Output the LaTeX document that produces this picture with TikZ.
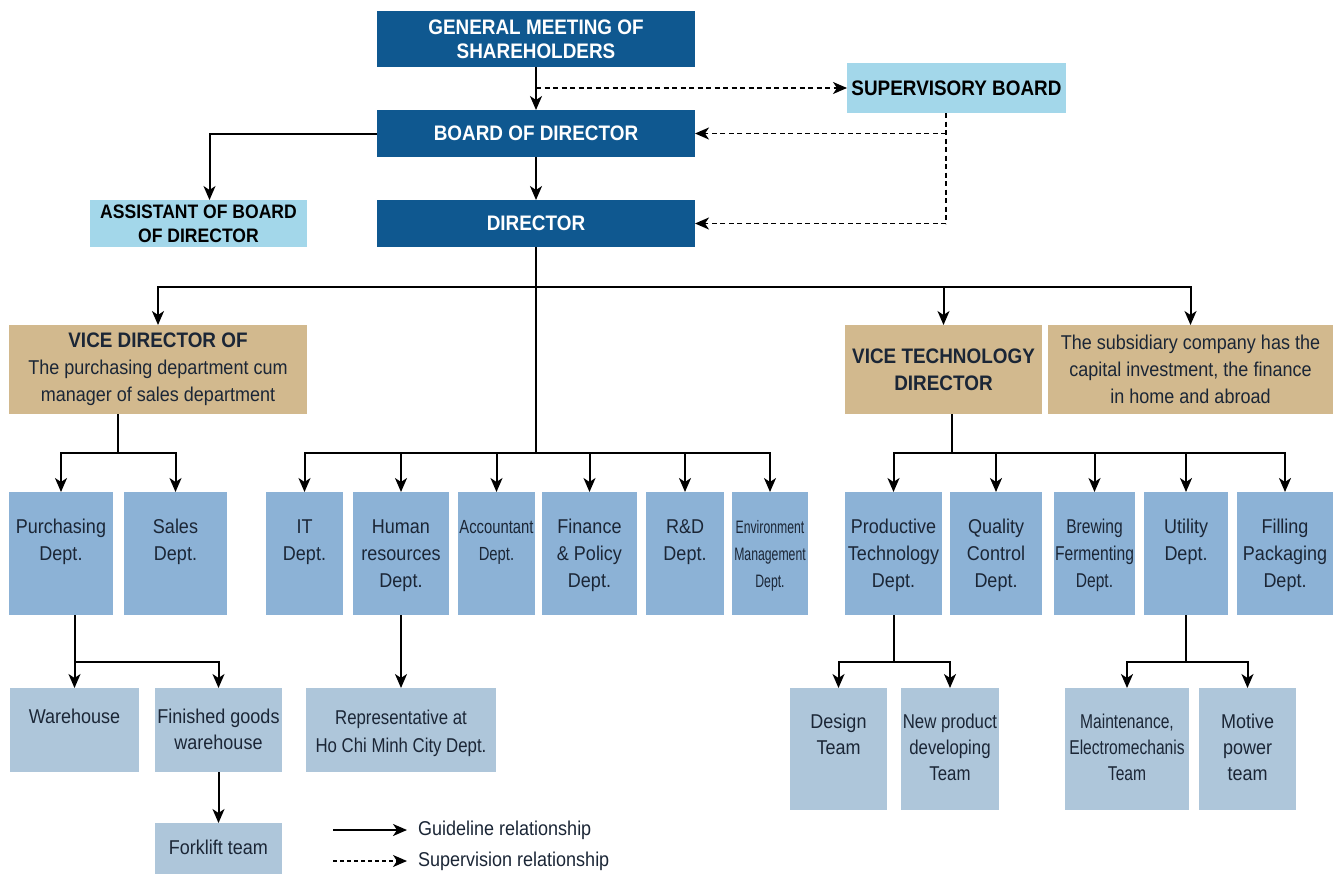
\documentclass[tikz,border=0pt]{standalone}
\usepackage{fontspec}
\setmainfont{Liberation Sans}[FakeStretch=0.9]
\newfontfamily\narrowfont{Liberation Sans}[FakeStretch=0.78]
\newfontfamily\xnarrowfont{Liberation Sans}[FakeStretch=0.68]
\newfontfamily\midfont{Liberation Sans}[FakeStretch=0.84]
\usetikzlibrary{arrows.meta}
\definecolor{dkblue}{HTML}{0F5890}
\definecolor{ltblue}{HTML}{A3D7EA}
\definecolor{tanc}{HTML}{D2B98E}
\definecolor{deptc}{HTML}{8CB2D6}
\definecolor{lvlc}{HTML}{AEC6DA}
\definecolor{txtd}{HTML}{1B2636}
\newcommand{\tbx}[4]{\parbox[t][#2][t]{#1}{\centering\vspace*{#3}\strut #4\par}}
\tikzset{
  base/.style={inner sep=0pt, outer sep=0pt, anchor=north west},
  dk/.style={base, fill=dkblue, text=white, font=\bfseries\fontsize{21}{24}\selectfont, align=center},
  lb/.style={base, fill=ltblue, text=black, font=\bfseries\fontsize{21}{24}\selectfont, align=center},
  tanbox/.style={base, fill=tanc, text=txtd, font=\fontsize{20}{27}\selectfont, align=center},
  dept/.style={base, fill=deptc, text=txtd, font=\fontsize{20}{27}\selectfont},
  lvl/.style={base, fill=lvlc, text=txtd, font=\fontsize{20}{26}\selectfont},
  ln/.style={line width=2pt, black},
  arr/.style={ln, -{Stealth[length=14pt,width=12pt,inset=4pt]}},
  dsh/.style={line width=1.9pt, black, dash pattern=on 5pt off 3.5pt},
  darr/.style={dsh, -{Stealth[length=14pt,width=12pt,inset=4pt]}},
  larr/.style={line width=1.4pt, black, dash pattern=on 4pt off 3pt, -{Stealth[length=14pt,width=12pt,inset=4pt]}},
  legtxt/.style={inner sep=0pt, anchor=west, text=txtd, font=\fontsize{20}{24}\selectfont}
}
\begin{document}
\begin{tikzpicture}[x=1pt,y=-1pt]
\fill[white] (0,0) rectangle (1341,873);
\useasboundingbox (0,0) rectangle (1341,873);

% top level
\node[dk, minimum width=318pt, minimum height=56pt] (gm) at (377,11) {GENERAL MEETING OF\\SHAREHOLDERS};
\node[lb, minimum width=219pt, minimum height=50pt] (sup) at (847,63) {SUPERVISORY BOARD};
\node[dk, minimum width=318pt, minimum height=47pt] (board) at (377,110) {BOARD OF DIRECTOR};
\node[lb, font=\bfseries\fontsize{19.5}{24}\selectfont, minimum width=217pt, minimum height=47pt] (asst) at (90,200) {ASSISTANT OF BOARD\\OF DIRECTOR};
\node[dk, minimum width=318pt, minimum height=47pt] (dir) at (377,200) {DIRECTOR};

% vice directors
\node[tanbox, minimum width=298pt, minimum height=89pt] (vdp) at (9,325) {{\bfseries\fontsize{21}{27}\selectfont VICE DIRECTOR OF}\\The purchasing department cum\\manager of sales department};
\node[tanbox, font=\bfseries\fontsize{21}{27}\selectfont, minimum width=197pt, minimum height=89pt] (vtd) at (845,325) {VICE TECHNOLOGY\\DIRECTOR};
\node[tanbox, minimum width=285pt, minimum height=89pt] (sub) at (1048,325) {The subsidiary company has the\\capital investment, the finance\\in home and abroad};

% departments
\node[dept] (pur) at (9,492) {\tbx{104pt}{123pt}{23pt}{Purchasing\\Dept.}};
\node[dept] (sal) at (124,492) {\tbx{103pt}{123pt}{23pt}{Sales\\Dept.}};
\node[dept] (it) at (266,492) {\tbx{77pt}{123pt}{23pt}{IT\\Dept.}};
\node[dept] (hr) at (353,492) {\tbx{96pt}{123pt}{23pt}{Human\\resources\\Dept.}};
\node[dept, font=\narrowfont\fontsize{19}{27}\selectfont] (acc) at (458,492) {\tbx{77pt}{123pt}{23pt}{Accountant\\Dept.}};
\node[dept] (fin) at (542,492) {\tbx{95pt}{123pt}{23pt}{Finance\\\& Policy\\Dept.}};
\node[dept] (rd) at (646,492) {\tbx{78pt}{123pt}{23pt}{R\&D\\Dept.}};
\node[dept, font=\xnarrowfont\fontsize{18}{27}\selectfont] (env) at (732,492) {\tbx{76pt}{123pt}{23pt}{Environment\\Management\\Dept.}};
\node[dept] (pt) at (845,492) {\tbx{97pt}{123pt}{23pt}{Productive\\Technology\\Dept.}};
\node[dept] (qc) at (950,492) {\tbx{92pt}{123pt}{23pt}{Quality\\Control\\Dept.}};
\node[dept, font=\narrowfont\fontsize{20}{27}\selectfont] (bf) at (1054,492) {\tbx{81pt}{123pt}{23pt}{Brewing\\Fermenting\\Dept.}};
\node[dept] (ut) at (1144,492) {\tbx{84pt}{123pt}{23pt}{Utility\\Dept.}};
\node[dept] (fp) at (1237,492) {\tbx{96pt}{123pt}{23pt}{Filling\\Packaging\\Dept.}};

% level 3
\node[lvl] (wh) at (10,688) {\tbx{129pt}{84pt}{17pt}{Warehouse}};
\node[lvl] (fg) at (155,688) {\tbx{127pt}{84pt}{17pt}{Finished goods\\warehouse}};
\node[lvl] (fk) at (155,823) {\tbx{127pt}{57pt}{13.5pt}{Forklift team}};
\node[lvl, font=\midfont\fontsize{20}{28}\selectfont] (rep) at (306,688) {\tbx{190pt}{84pt}{17pt}{Representative at\\Ho Chi Minh City Dept.}};
\node[lvl] (ds) at (790,688) {\tbx{97pt}{122pt}{22pt}{Design\\Team}};
\node[lvl, font=\midfont\fontsize{20}{26}\selectfont] (np) at (901,688) {\tbx{98pt}{122pt}{22pt}{New product\\developing\\Team}};
\node[lvl, font=\narrowfont\fontsize{20}{26}\selectfont] (mt) at (1065,688) {\tbx{124pt}{122pt}{22pt}{Maintenance,\\Electromechanis\\Team}};
\node[lvl] (mp) at (1199,688) {\tbx{97pt}{122pt}{22pt}{Motive\\power\\team}};

% connectors: top
\coordinate (g1) at (536,88);
\draw[arr] (gm.south) -- (board.north);
\draw[darr] (g1) -- (sup.west);
\coordinate (s1) at (946,133.5);
\coordinate (s2) at (946,223.5);
\draw[dsh] (sup.south -| s1) -- (s2);
\draw[darr] (s1) -- (board.east);
\draw[darr] (s2) -- (dir.east);
\draw[arr] (board.west) -| ([xshift=11pt]asst.north);
\draw[arr] (board.south) -- (dir.north);

% director bus
\coordinate (d1) at (536,287);
\coordinate (d2) at (536,453);
\draw[ln] (dir.south) -- (d1);
\draw[arr] (d1) -| (vdp.north);
\draw[arr] (d1) -| (vtd.north);
\draw[arr] (d1) -| (sub.north);
\draw[ln] (d1) -- (d2);
\foreach \n in {it,hr,acc,fin,rd,env} \draw[arr] (d2) -| (\n.north);

% vice director of purchasing
\coordinate (v1) at (118,453);
\draw[ln] (vdp.south -| v1) -- (v1);
\draw[arr] (v1) -| (pur.north);
\draw[arr] (v1) -| (sal.north);

% vice technology director
\coordinate (t1) at (952,453);
\draw[ln] (vtd.south -| t1) -- (t1);
\foreach \n in {pt,qc,bf,ut,fp} \draw[arr] (t1) -| (\n.north);

% level 3 connectors
\coordinate (p1) at (74.5,662);
\draw[ln] (pur.south -| p1) -- (p1);
\draw[arr] (p1) -- (wh.north);
\draw[arr] (p1) -| (fg.north);
\draw[arr] (fg.south) -- (fk.north);
\draw[arr] (hr.south) -- (rep.north);
\coordinate (q1) at (893.5,662);
\draw[ln] (pt.south) -- (q1);
\draw[arr] (q1) -| (ds.north);
\draw[arr] (q1) -| (np.north);
\coordinate (u1) at (1186,662);
\draw[ln] (ut.south) -- (u1);
\draw[arr] (u1) -| (mt.north);
\draw[arr] (u1) -| (mp.north);

% legend
\coordinate (la) at (333,830);
\coordinate (lb) at (407,830);
\draw[arr] (la) -- (lb);
\node[legtxt] (lg1) at (418,830) {Guideline relationship};
\coordinate (lc) at (333,861);
\coordinate (ld) at (407,861);
\draw[larr] (lc) -- (ld);
\node[legtxt] (lg2) at (418,861) {Supervision relationship};
\end{tikzpicture}
\end{document}
